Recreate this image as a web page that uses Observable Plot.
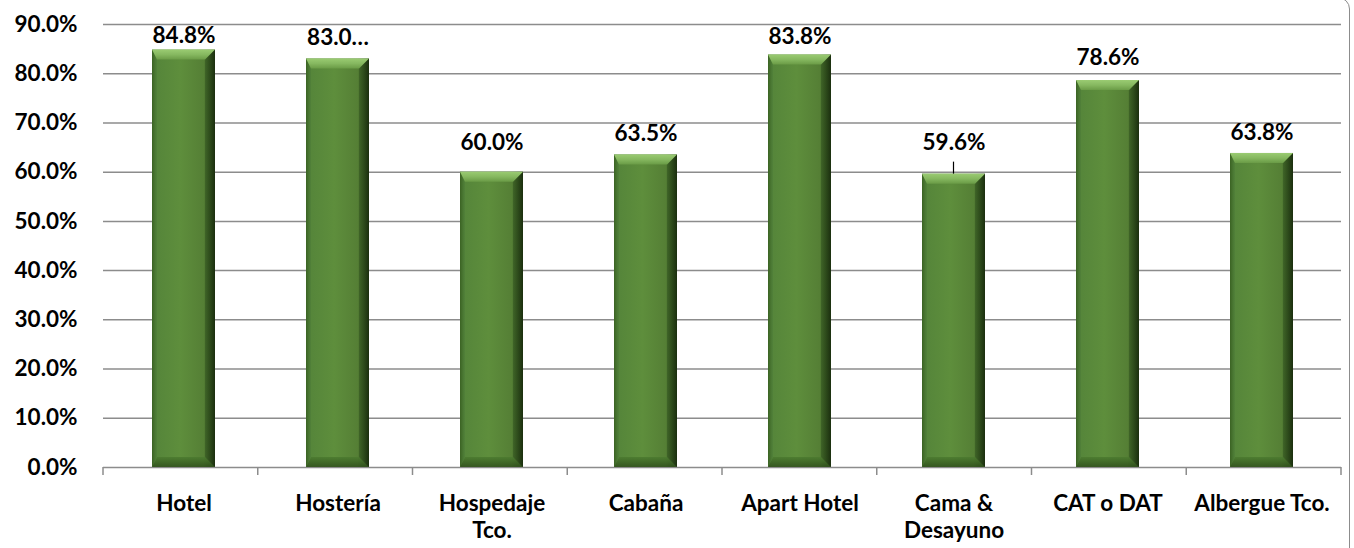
<!DOCTYPE html>
<html><head><meta charset="utf-8">
<script src="https://cdn.jsdelivr.net/npm/d3@7"></script>
<script src="https://cdn.jsdelivr.net/npm/@observablehq/plot@0.6"></script>
<style>
html,body{margin:0;padding:0;background:#fff;overflow:hidden;width:1354px;height:548px;}
#frame{position:absolute;left:-20px;top:-3px;width:1370px;height:600px;border:1.5px solid #8c8c8c;border-radius:12px;box-sizing:border-box;}
#chart{position:absolute;left:0;top:0;}
#chart svg{font-family:Lato,"Open Sans",sans-serif;font-weight:bold;}
</style></head><body>
<div id="frame"></div><div id="chart"></div>
<script>
const categories = ["Hotel","Hostería","Hospedaje Tco.","Cabaña","Apart Hotel","Cama & Desayuno","CAT o DAT","Albergue Tco."];
const axisLabels = ["Hotel","Hostería","Hospedaje\nTco.","Cabaña","Apart Hotel","Cama &\nDesayuno","CAT o DAT","Albergue Tco."];
const values = [84.8, 83.0, 60.0, 63.5, 83.8, 59.6, 78.6, 63.8];
const valueLabels = ["84.8%","83.0…","60.0%","63.5%","83.8%","59.6%","78.6%","63.8%"];
const yTicks = [0,10,20,30,40,50,60,70,80,90];
// manual label placement (pixels above bar top), as in the source chart
const labelLift = [14, 21, 29, 21, 18, 31, 23, 21];
const leaderLines = ["Cama & Desayuno"];

const W = 1354, H = 548, mL = 103, mR = 13, mT = 24, mB = 81;
const FS = 22.5;
const data = categories.map((c, i) => ({c, v: values[i], lab: valueLabels[i], ax: axisLabels[i], lift: labelLift[i]}));

const liftGroups = [...new Set(labelLift)].map(l =>
  Plot.text(data.filter(d => d.lift === l), {x: "c", y: "v", text: "lab", dy: -l, fontSize: FS, fontWeight: "bold", fill: "#000"}));

const plot = Plot.plot({
  width: W, height: H, marginLeft: mL, marginRight: mR, marginTop: mT, marginBottom: mB,
  style: {background: "transparent", fontFamily: "Lato, 'Open Sans', sans-serif", color: "#000", overflow: "visible"},
  x: {domain: categories, paddingInner: 0.593, paddingOuter: 0.2965, axis: null},
  y: {domain: [0, 90], axis: null},
  marks: [
    Plot.gridY(yTicks.slice(1), {stroke: "#8c8c8c", strokeOpacity: 1, strokeWidth: 1.5}),
    Plot.axisY(yTicks, {tickSize: 0, tickPadding: 26, tickFormat: d => d.toFixed(1) + "%", fontSize: FS, fontWeight: "bold", label: null}),
    Plot.barY(data, {x: "c", y: "v", fill: "url(#barFace)"}),
    Plot.ruleY([0], {stroke: "#8c8c8c", strokeWidth: 1.5}),
    ...liftGroups,
    Plot.text(data, {x: "c", y: 0, text: "ax", dy: 24, lineAnchor: "top", lineHeight: 1.22, fontSize: FS, fontWeight: "bold", fill: "#000"})
  ]
});
document.getElementById("chart").appendChild(plot);

const svg = d3.select(plot);
const defs = svg.insert("defs", ":first-child");
const lg = (id, x2, y2, stops) => {
  const g = defs.append("linearGradient").attr("id", id).attr("x1", 0).attr("y1", 0).attr("x2", x2).attr("y2", y2);
  stops.forEach(([o, c]) => g.append("stop").attr("offset", o).attr("stop-color", c));
};
lg("barFace", 1, 0, [[0, "#3d6625"], [0.05, "#55853a"], [0.45, "#5e8e3c"], [0.82, "#557f35"], [0.93, "#34561f"], [1, "#1d3310"]]);
lg("bevTop", 0, 1, [[0, "#9acb72"], [0.5, "#86b860"], [1, "#6a9b46"]]);
lg("bevBot", 0, 1, [[0, "#4b7a2f"], [1, "#2f4f1b"]]);
lg("bevRight", 1, 0, [[0, "#3a5e24"], [1, "#1a2d0e"]]);
lg("bevLeft", 1, 0, [[0, "#3a6223"], [1, "#50803a"]]);

const bev = svg.append("g").attr("aria-label", "bevel");
svg.selectAll('g[aria-label="bar"] rect').each(function () {
  const r = d3.select(this);
  const x = +r.attr("x"), y = +r.attr("y"), w = +r.attr("width"), h = +r.attr("height");
  const b = Math.min(10, h / 2);
  const P = pts => pts.map(p => p.join(",")).join(" ");
  bev.append("polygon").attr("points", P([[x, y + h], [x + b * 0.5, y + h - b], [x + w - b, y + h - b], [x + w, y + h]])).attr("fill", "url(#bevBot)").attr("opacity", 0.85);
  bev.append("polygon").attr("points", P([[x, y], [x + b * 0.5, y + b], [x + b * 0.5, y + h - b], [x, y + h]])).attr("fill", "url(#bevLeft)").attr("opacity", 0.8);
  bev.append("polygon").attr("points", P([[x + w, y], [x + w - b, y + b], [x + w - b, y + h - b], [x + w, y + h]])).attr("fill", "url(#bevRight)").attr("opacity", 0.75);
  bev.append("polygon").attr("points", P([[x, y], [x + w, y], [x + w - b, y + b], [x + b * 0.5, y + b]])).attr("fill", "url(#bevTop)");
});

// category boundary ticks and leader lines, from Plot's scales
const xs = plot.scale("x"), ys = plot.scale("y");
const step = (xs.range[1] - xs.range[0]) / categories.length;
const y0 = ys.apply(0);
const axg = svg.append("g").attr("stroke", "#8c8c8c").attr("stroke-width", 1.5);
for (let i = 0; i <= categories.length; i++) {
  const xb = xs.range[0] + i * step;
  axg.append("line").attr("x1", xb).attr("x2", xb).attr("y1", y0).attr("y2", y0 + 8);
}
data.filter(d => leaderLines.includes(d.c)).forEach(d => {
  const xc = xs.apply(d.c) + xs.bandwidth / 2, yt = ys.apply(d.v);
  svg.append("line").attr("x1", xc).attr("x2", xc).attr("y1", yt - 12).attr("y2", yt).attr("stroke", "#000").attr("stroke-width", 1.2);
});
</script>
</body></html>
